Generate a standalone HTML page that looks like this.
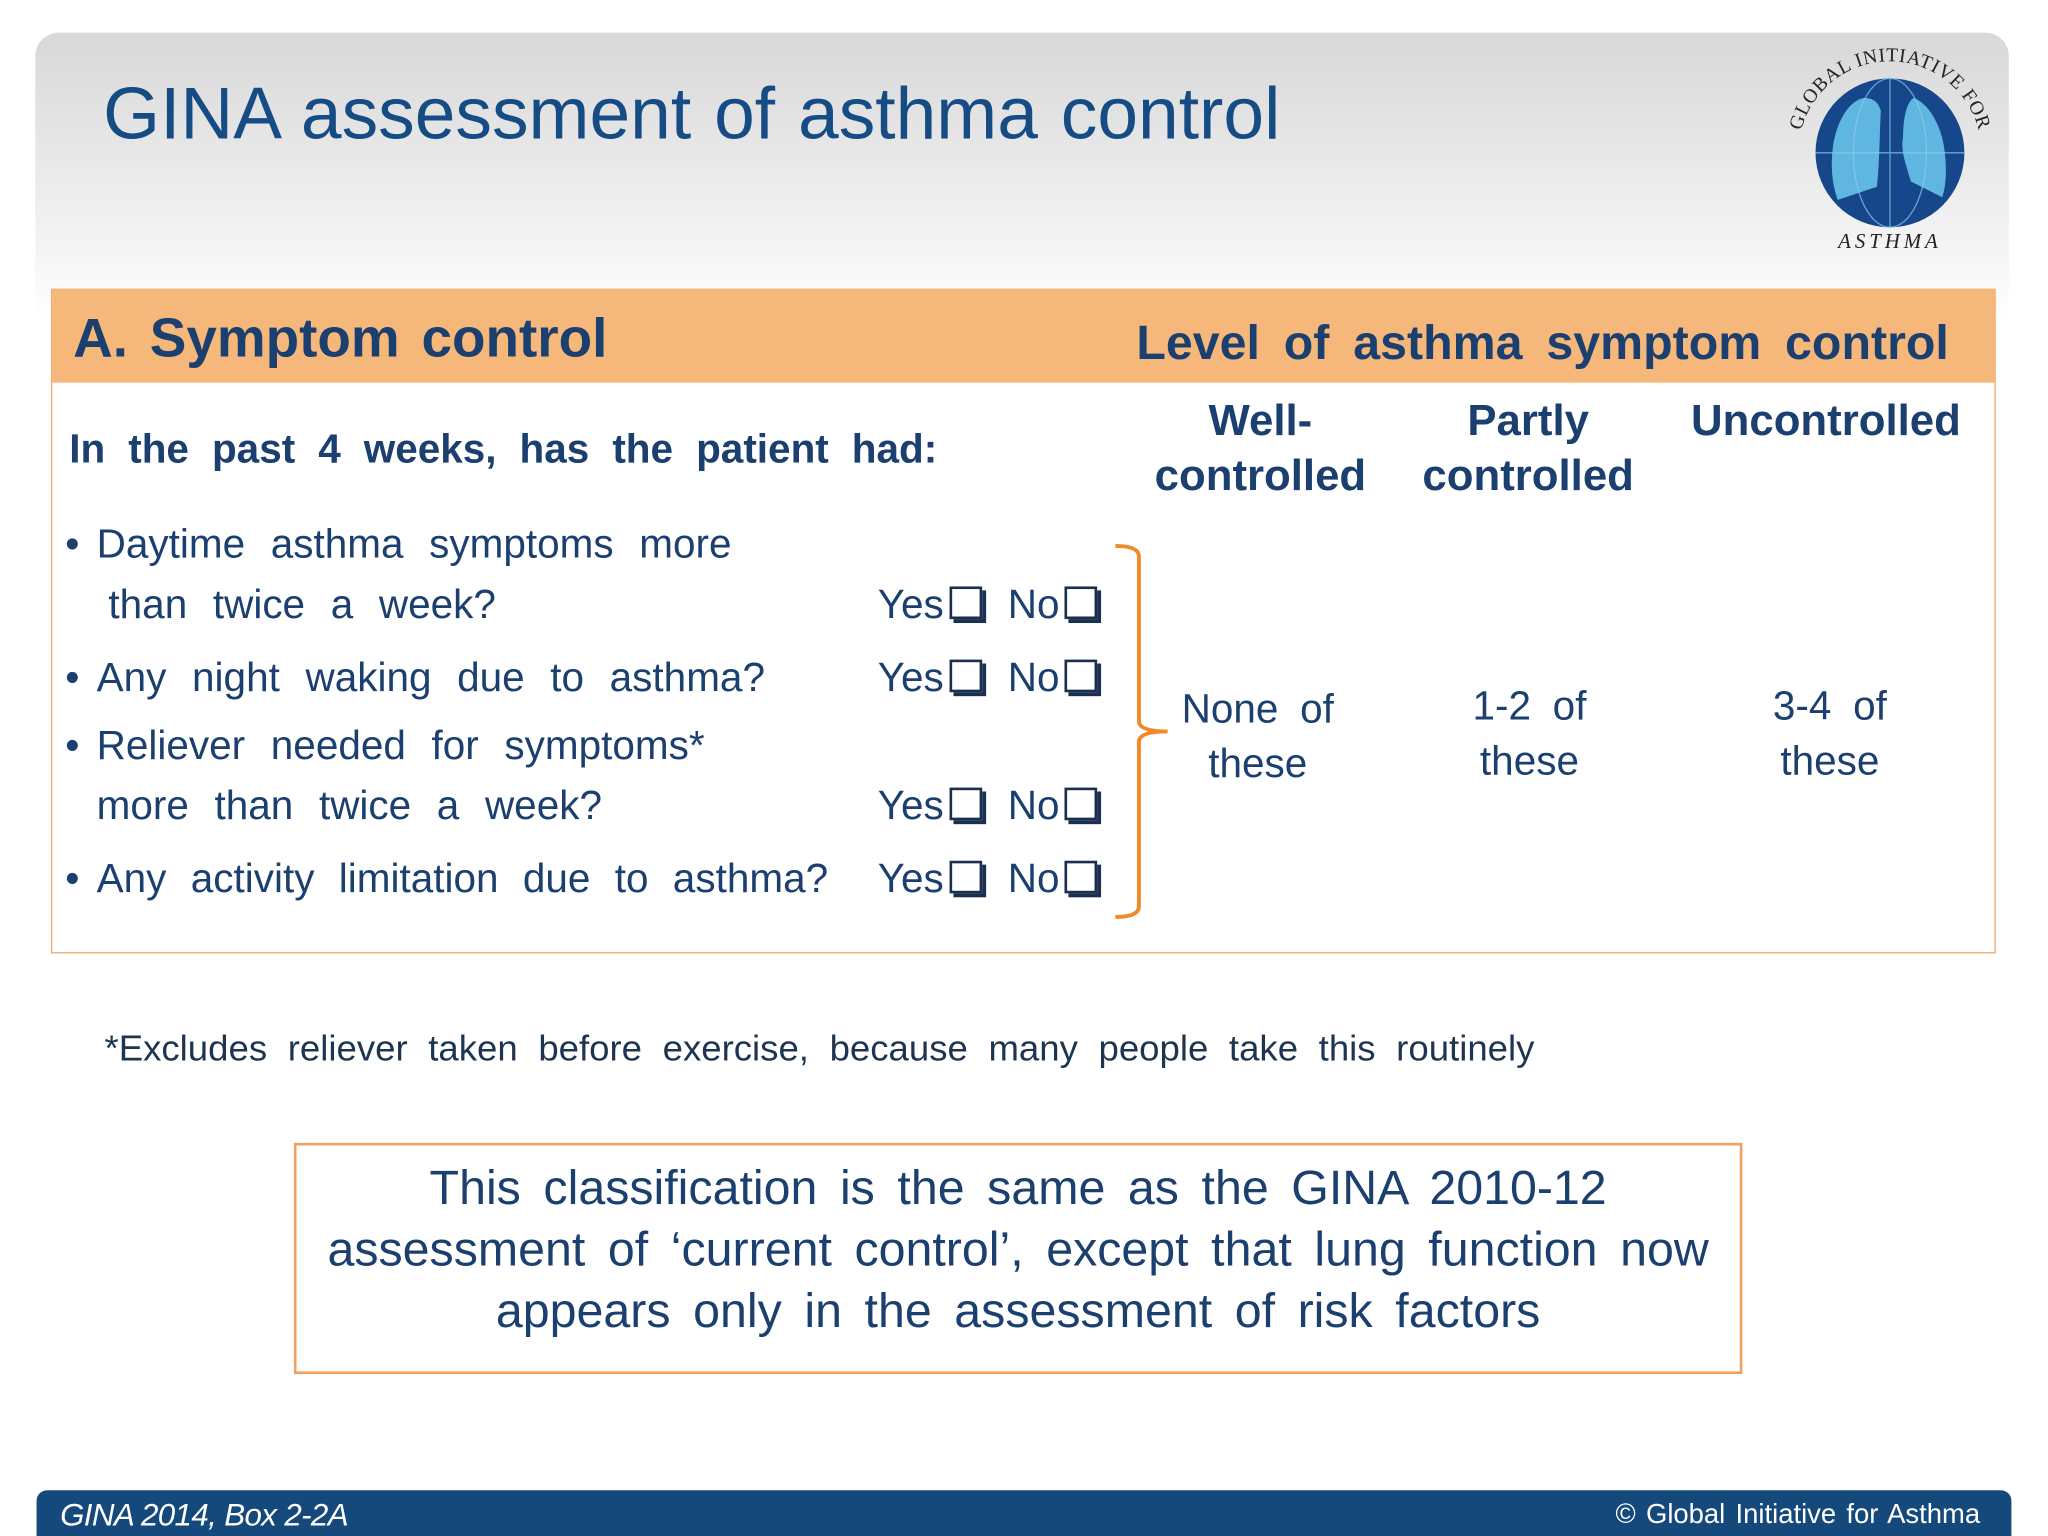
<!DOCTYPE html>
<html><head><meta charset="utf-8"><style>
html,body{margin:0;padding:0;background:#fff;}
#root{width:1568px;height:1176px;position:relative;transform:scale(1.30612);transform-origin:0 0;font-family:"Liberation Sans",sans-serif;color:#1b3f6f;overflow:hidden;}
.abs{position:absolute;white-space:nowrap;}
.b{font-weight:bold;}
.c{text-align:center;}
.cb{display:inline-block;width:21px;height:21px;border:2.5px solid #1b2f4f;box-shadow:3px 3px 0 #1b2f4f;vertical-align:-1px;margin-left:4px;background:#fff;}
.cb.m{margin-right:20px;}
.q{word-spacing:11px;}
</style></head><body>
<div id="root">
<div class="abs" style="left:27px;top:25px;width:1511px;height:220px;border-radius:18px 18px 0 0;background:linear-gradient(#d8d8d9,#f4f4f5 75%,#fff);"></div>
<div class="abs" style="left:79px;top:54px;font-size:56px;color:#164c84;word-spacing:2px;">GINA assessment of asthma control</div>
<svg class="abs" style="left:1365px;top:35px" width="165" height="165" viewBox="0 0 165 165">
<defs><path id="arcTop" d="M18.8,112 A70,70 0 1 1 145.2,112"/></defs>
<circle cx="82" cy="82" r="57" fill="#15478a"/>
<path d="M62,40 C50,42 40,60 38,80 C36,100 40,112 42,118 L72,108 C74,90 74,70 75,50 C73,42 68,40 62,40Z" fill="#5fb6e0"/>
<path d="M100,40 C112,44 122,62 124,82 C126,100 124,110 122,116 L98,104 C94,90 90,80 92,70 C92,58 94,44 100,40Z" fill="#5fb6e0"/>
<g stroke="#8fcbee" stroke-width="1" fill="none" opacity="0.7"><ellipse cx="82" cy="82" rx="28" ry="57"/><line x1="82" y1="25" x2="82" y2="139"/><line x1="25" y1="82" x2="139" y2="82"/></g>
<text font-family="Liberation Serif,serif" font-size="15" fill="#222" letter-spacing="0.5"><textPath href="#arcTop" startOffset="50%" text-anchor="middle">GLOBAL INITIATIVE FOR</textPath></text>
<text x="82" y="155" font-family="Liberation Serif,serif" font-style="italic" font-size="16" fill="#222" text-anchor="middle" letter-spacing="3">ASTHMA</text>
</svg>
<div class="abs" style="left:39px;top:221px;width:1487px;height:507px;border:1px solid #f2a868;background:#fff;"></div>
<div class="abs" style="left:40px;top:221px;width:1487px;height:72px;background:#f6b77b;"></div>
<div class="abs b" style="left:56px;top:235px;font-size:42px;word-spacing:5px;">A. Symptom control</div>
<div class="abs b" style="left:870px;top:242px;font-size:37px;word-spacing:8px;">Level of asthma symptom control</div>
<div class="abs b" style="left:53px;top:326px;font-size:31px;word-spacing:9px;">In the past 4 weeks, has the patient had:</div>
<div class="abs b c" style="left:865px;width:200px;top:302px;font-size:33.5px;line-height:42px;">Well-<br>controlled</div>
<div class="abs b c" style="left:1070px;width:200px;top:302px;font-size:33.5px;line-height:42px;">Partly<br>controlled</div>
<div class="abs b c" style="left:1290px;width:216px;top:302px;font-size:33.5px;line-height:42px;">Uncontrolled</div>
<div style="font-size:31px;">
<div class="abs" style="left:50px;top:399px;">•</div>
<div class="abs" style="left:50px;top:501px;">•</div>
<div class="abs" style="left:50px;top:553px;">•</div>
<div class="abs" style="left:50px;top:655px;">•</div>
<div class="abs q" style="left:74px;top:399px;">Daytime asthma symptoms more</div>
<div class="abs q" style="left:83px;top:445px;">than twice a week?</div>
<div class="abs q" style="left:74px;top:501px;">Any night waking due to asthma?</div>
<div class="abs q" style="left:74px;top:553px;">Reliever needed for symptoms*</div>
<div class="abs q" style="left:74px;top:599px;">more than twice a week?</div>
<div class="abs q" style="left:74px;top:655px;word-spacing:10px;">Any activity limitation due to asthma?</div>
<div class="abs" style="left:672px;top:445px;">Yes<span class="cb m"></span>No<span class="cb"></span></div>
<div class="abs" style="left:672px;top:501px;">Yes<span class="cb m"></span>No<span class="cb"></span></div>
<div class="abs" style="left:672px;top:599px;">Yes<span class="cb m"></span>No<span class="cb"></span></div>
<div class="abs" style="left:672px;top:655px;">Yes<span class="cb m"></span>No<span class="cb"></span></div>
</div>
<svg class="abs" style="left:850px;top:412px" width="50" height="296"><path d="M4,6 Q22,6 22,14 L22,140 Q22,148 44,148 Q22,148 22,156 L22,282 Q22,290 4,290" fill="none" stroke="#f08a2a" stroke-width="3"/></svg>
<div class="abs c" style="left:863px;width:200px;top:522px;font-size:31px;line-height:42px;word-spacing:8px;">None of<br>these</div>
<div class="abs c" style="left:1071px;width:200px;top:520px;font-size:31px;line-height:42px;word-spacing:8px;">1-2 of<br>these</div>
<div class="abs c" style="left:1301px;width:200px;top:520px;font-size:31px;line-height:42px;word-spacing:8px;">3-4 of<br>these</div>
<div class="abs" style="left:80px;top:787px;font-size:28px;color:#1e3550;word-spacing:8px;">*Excludes reliever taken before exercise, because many people take this routinely</div>
<div class="abs c" style="left:225px;top:875px;width:1109px;height:177px;border:2px solid #f2a060;font-size:37px;line-height:47px;padding-top:9px;box-sizing:border-box;word-spacing:7px;">This classification is the same as the GINA 2010-12<br>assessment of ‘current control’, except that lung function now<br>appears only in the assessment of risk factors</div>
<div class="abs" style="left:28px;top:1141px;width:1512px;height:40px;background:#15487b;border-radius:8px 8px 0 0;"></div>
<div class="abs" style="left:46px;top:1147px;font-size:24px;font-style:italic;color:#fff;letter-spacing:-0.5px;">GINA 2014, Box 2-2A</div>
<div class="abs" style="right:52px;top:1148px;font-size:21px;color:#fff;word-spacing:2px;">© Global Initiative for Asthma</div>
</div>
</body></html>
